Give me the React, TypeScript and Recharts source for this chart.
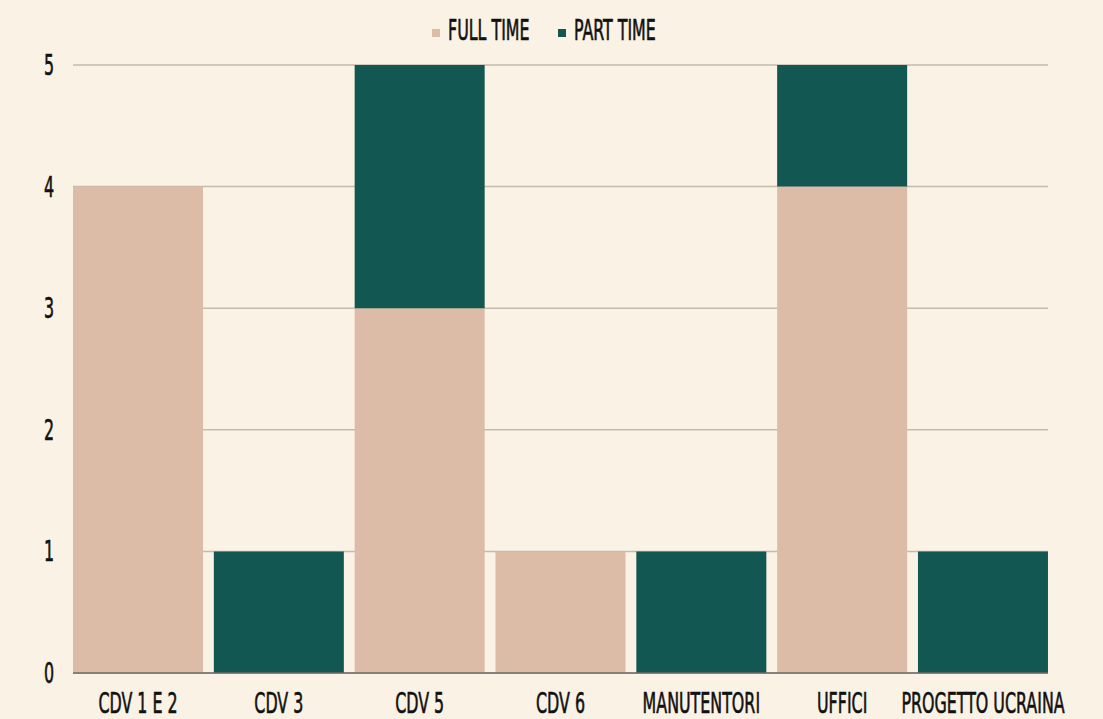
import React from "react";
import { BarChart, Bar, XAxis, YAxis, CartesianGrid, Legend } from "recharts";

const categories = ["CDV 1 E 2", "CDV 3", "CDV 5", "CDV 6", "MANUTENTORI", "UFFICI", "PROGETTO UCRAINA"];
const fullTime = [4, 0, 3, 1, 0, 4, 0];
const partTime = [0, 1, 2, 0, 1, 1, 1];
const yTicks = [0, 1, 2, 3, 4, 5];

const data = categories.map((c, i) => ({ name: c, ft: fullTime[i], pt: partTime[i] }));

const FONT = "'DejaVu Sans Condensed', 'Liberation Sans Narrow', sans-serif";
const SX = 0.63;
const FW = 400;

const XTick = (props: any) => {
  const { x, y, payload } = props;
  return (
    <text
      transform={`translate(${x},${y}) scale(${SX},1)`}
      textAnchor="middle"
      dy={34}
      fontFamily={FONT}
      fontSize={28}
      fontWeight={FW}
      stroke="#111"
      strokeWidth={0.6}
      fill="#111"
    >
      {payload.value}
    </text>
  );
};

const YTick = (props: any) => {
  const { x, y, payload } = props;
  return (
    <text
      transform={`translate(${x + 1},${y}) scale(${SX},1)`}
      textAnchor="end"
      dy={10}
      fontFamily={FONT}
      fontSize={28}
      fontWeight={FW}
      stroke="#111"
      strokeWidth={0.6}
      fill="#111"
    >
      {payload.value}
    </text>
  );
};

const LegendContent = (props: any) => {
  const payload = props.payload || [];
  return (
    <svg width={1103} height={50} style={{ display: "block" }}>
      {payload.map((p: any, i: number) => {
        const x0 = 432 + i * 126;
        return (
          <g key={i}>
            <rect x={x0} y={29} width={8} height={8} fill={p.color} />
            <text
              transform={`translate(${x0 + 16},40) scale(${SX},1)`}
              textAnchor="start"
              fontFamily={FONT}
              fontSize={28}
              fontWeight={FW}
              stroke="#111"
              strokeWidth={0.6}
              fill="#111"
            >
              {p.value}
            </text>
          </g>
        );
      })}
    </svg>
  );
};

export default function App() {
  return (
    <div style={{ position: "absolute", left: 0, top: 0, width: 1103, height: 719, background: "#FAF2E4" }}>
      <BarChart
        width={1103}
        height={719}
        data={data}
        margin={{ top: 15, right: 55, bottom: 16, left: 0 }}
        barCategoryGap="3.84%"
      >
        <Legend
          verticalAlign="top"
          align="center"
          content={<LegendContent />}
          wrapperStyle={{ top: 0, left: 0, width: 1103, height: 50 }}
        />
        <CartesianGrid horizontal vertical={false} stroke="#C3BBAE" strokeWidth={1.5} />
        <XAxis
          dataKey="name"
          interval={0}
          padding={{ left: -5.4, right: -5.4 }}
          tickLine={false}
          axisLine={{ stroke: "#6E6964", strokeWidth: 1.5 }}
          tick={<XTick />}
          height={30}
          tickSize={6}
          tickMargin={0}
        />
        <YAxis
          width={73}
          domain={[0, 5]}
          ticks={yTicks}
          interval={0}
          axisLine={false}
          tickLine={false}
          tickSize={6}
          tickMargin={14}
          tick={<YTick />}
        />
        <Bar dataKey="ft" name="FULL TIME" stackId="a" fill="#DDBCA7" isAnimationActive={false} />
        <Bar dataKey="pt" name="PART TIME" stackId="a" fill="#125752" isAnimationActive={false} />
      </BarChart>
    </div>
  );
}
